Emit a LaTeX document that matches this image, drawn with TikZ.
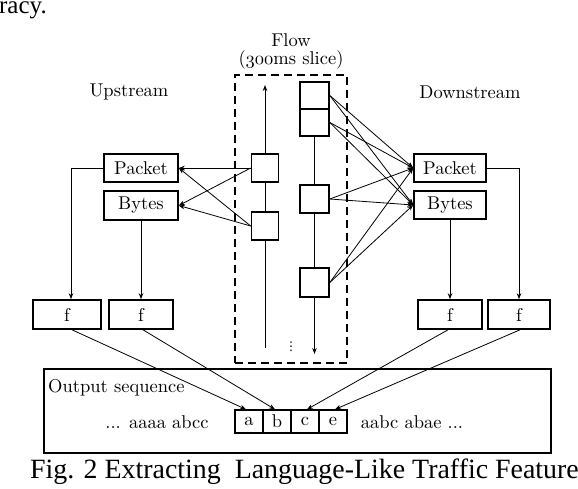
\documentclass[tikz,border=0pt]{standalone}
\usepackage{fontspec}
\usepackage{graphicx}
\newfontfamily\capfont{Liberation Serif}
\newfontfamily\symfont{DejaVu Sans}
\usetikzlibrary{arrows.meta,calc}
\newcommand{\osn}[1]{{\usefont{OML}{cmm}{m}{it}#1}}
\newcommand{\tx}[1]{\scalebox{1.85}{\fontsize{10}{12}\selectfont #1}}
\begin{document}
\begin{tikzpicture}[x=1pt,y=-1pt,
  lab/.style={inner sep=0pt},
  capt/.style={font=\capfont\fontsize{27.9}{30}\selectfont, inner sep=0pt},
  fbox/.style={draw, line width=1.6pt, fill=white, minimum width=28pt, minimum height=28pt, inner sep=0pt},
  lbox/.style={draw, line width=1.6pt, fill=white, minimum width=74pt, minimum height=28pt, inner sep=0pt},
  funcbox/.style={draw, line width=1.6pt, minimum width=64pt, minimum height=29pt, inner sep=0pt},
  sbox/.style={draw, line width=1.3pt, minimum width=28pt, minimum height=23pt, inner sep=0pt},
  conn/.style={line width=0.8pt},
  arr/.style={line width=0.8pt, -{Stealth[length=6pt,width=4.5pt]}}
]
\useasboundingbox (0,0) rectangle (578,488);

% top text fragment
\node[font=\capfont\fontsize{25}{28}\selectfont, inner sep=0pt, anchor=base east] (racy) at (47,13.5) {racy.};

% titles
\node[lab] (flowlbl) at (291,40) {\tx{Flow}};
\node[lab] (slice) at (291,60) {\tx{(\osn{300}ms slice)}};
\node[lab] (up) at (129,92) {\tx{Upstream}};
\node[lab] (down) at (470,92) {\tx{Downstream}};

% dashed flow frame
\node[draw, line width=1.6pt, dash pattern=on 8pt off 5pt, minimum width=112pt, minimum height=288pt, inner sep=0pt] (flow) at (291,219) {};

% flow boxes
\node[fbox, minimum width=27pt] (L1) at (265,168) {};
\node[fbox, minimum width=27pt] (L2) at (265,226) {};
\node[fbox, minimum width=29pt, minimum height=27pt] (R1) at (314.5,95.5) {};
\node[fbox, minimum width=29pt, minimum height=27pt] (R2) at (314.5,122.5) {};
\node[fbox, minimum width=29pt] (R3) at (314.5,199) {};
\node[fbox, minimum width=29pt, minimum height=29pt] (R4) at (314.5,282.5) {};
\coordinate (lt) at (265,85);
\coordinate (lb) at (265,348);
\coordinate (rb) at (314.5,354);
\node[font=\symfont\fontsize{12}{13}\selectfont, inner sep=0pt] (dots) at (291,347) {⋮};

% vertical flow lines
\draw[conn] (lb) -- (L2.south);
\draw[conn] (L2.north) -- (L1.south);
\draw[arr] (L1.north) -- (lt);
\draw[conn] (R2.south) -- (R3.north);
\draw[conn] (R3.south) -- (R4.north);
\draw[arr] (R4.south) -- (rb);

% feature boxes
\node[lbox] (PL) at (141,168) {\tx{Packet}};
\node[lbox, minimum height=29pt] (BL) at (141,205.5) {\tx{Bytes}};
\node[lbox, minimum width=72pt] (PR) at (450,168) {\tx{Packet}};
\node[lbox, minimum width=72pt] (BR) at (450,205) {\tx{Bytes}};

% f boxes
\node[funcbox, minimum width=68pt] (f1) at (67,314.5) {\tx{f}};
\node[funcbox] (f2) at (141,314.5) {\tx{f}};
\node[funcbox] (f3) at (450,314.5) {\tx{f}};
\node[funcbox, minimum width=62pt] (f4) at (519,314.5) {\tx{f}};

% upstream connections
\foreach \s in {L1,L2}{
  \draw[arr] (\s.west) -- (PL.east);
  \draw[arr] (\s.west) -- (BL.east);
}
% downstream connections
\foreach \s in {R1,R2,R3,R4}{
  \draw[arr] (\s.east) -- (PR.west);
  \draw[arr] (\s.east) -- (BR.west);
}

% to f boxes
\draw[arr] (PL.west) -| ([xshift=4pt]f1.north);
\draw[arr] (BL.south) -- (f2.north);
\draw[arr] (BR.south) -- (f3.north);
\draw[arr] (PR.east) -| (f4.north);

% output sequence
\node[draw, line width=1.6pt, minimum width=507pt, minimum height=84pt, inner sep=0pt] (out) at (297.5,411) {};
\node[lab, anchor=west] (outlbl) at (48,388) {\tx{Output sequence}};
\node[sbox] (a) at (249,421.5) {\tx{a}};
\node[sbox] (b) at (277,421.5) {\tx{b}};
\node[sbox] (c) at (305,421.5) {\tx{c}};
\node[sbox] (e) at (333,421.5) {\tx{e}};
\node[lab] (pre) at (157,422) {\tx{... aaaa abcc}};
\node[lab] (post) at (412,422) {\tx{aabc abae ...}};

\draw[arr] ([xshift=5pt]f1.south) -- ([xshift=-3pt]a.north);
\draw[arr] ([xshift=2pt]f2.south) -- ([xshift=-2pt]b.north);
\draw[arr] ([xshift=-2pt]f3.south) -- ([xshift=2pt]c.north);
\draw[arr] ([xshift=1pt]f4.south) -- ([xshift=2pt]e.north);

% caption
\node[capt, anchor=base west] (cap) at (30,478) {Fig. 2 Extracting\ \ Language-Like Traffic Feature};
\end{tikzpicture}
\end{document}
